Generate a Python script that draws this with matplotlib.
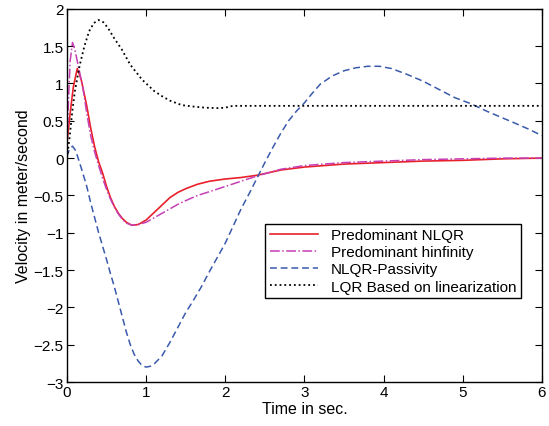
import numpy as np
import matplotlib.pyplot as plt
from matplotlib.ticker import FuncFormatter

plt.rcParams['font.family'] = ['Liberation Sans', 'DejaVu Sans']

# Predominant NLQR
t_nlqr = [0, 0.04, 0.08, 0.13, 0.18, 0.25, 0.3, 0.35, 0.4, 0.45, 0.5, 0.55, 0.6, 0.65, 0.7,
          0.75, 0.82, 0.9, 1.0, 1.1, 1.2, 1.3, 1.4, 1.5, 1.65, 1.8, 2.0, 2.2, 2.4, 2.7, 3.0,
          3.5, 4.0, 4.5, 5.0, 5.5, 6.0]
v_nlqr = [0.2, 0.6, 0.95, 1.2, 1.05, 0.7, 0.4, 0.15, -0.05, -0.2, -0.38, -0.53, -0.65, -0.74,
          -0.81, -0.86, -0.9, -0.89, -0.83, -0.73, -0.63, -0.53, -0.46, -0.41, -0.35, -0.31,
          -0.28, -0.26, -0.23, -0.16, -0.12, -0.08, -0.06, -0.04, -0.03, -0.01, 0.0]

# Predominant hinfinity
t_hinf = [0, 0.02, 0.04, 0.07, 0.1, 0.15, 0.2, 0.25, 0.3, 0.35, 0.4, 0.45, 0.5, 0.55, 0.6,
          0.65, 0.7, 0.75, 0.82, 0.9, 1.0, 1.1, 1.2, 1.3, 1.4, 1.5, 1.65, 1.8, 2.0, 2.2, 2.4,
          2.7, 3.0, 3.5, 4.0, 4.5, 5.0, 5.5, 6.0]
v_hinf = [0.2, 0.8, 1.3, 1.55, 1.45, 1.2, 0.95, 0.6, 0.3, 0.08, -0.1, -0.27, -0.42, -0.55,
          -0.66, -0.75, -0.82, -0.87, -0.9, -0.89, -0.86, -0.8, -0.74, -0.68, -0.62, -0.57,
          -0.5, -0.45, -0.38, -0.31, -0.24, -0.15, -0.1, -0.06, -0.04, -0.02, -0.01, 0.0, 0.0]

# NLQR-Passivity
t_pass = [0, 0.03, 0.07, 0.11, 0.15, 0.2, 0.25, 0.3, 0.35, 0.4, 0.45, 0.5, 0.55, 0.6, 0.65,
          0.7, 0.75, 0.8, 0.85, 0.9, 0.95, 1.0, 1.05, 1.1, 1.2, 1.3, 1.4, 1.5, 1.6, 1.7, 1.8,
          1.9, 2.0, 2.1, 2.2, 2.3, 2.4, 2.5, 2.6, 2.7, 2.8, 2.9, 3.0, 3.1, 3.2, 3.35, 3.5,
          3.65, 3.8, 3.95, 4.1, 4.3, 4.5, 4.7, 4.9, 5.1, 5.3, 5.5, 5.7, 5.85, 6.0]
v_pass = [0.02, 0.12, 0.16, 0.1, -0.03, -0.2, -0.38, -0.6, -0.8, -1.0, -1.18, -1.36, -1.55,
          -1.73, -1.93, -2.13, -2.33, -2.5, -2.63, -2.72, -2.78, -2.8, -2.79, -2.76, -2.65,
          -2.47, -2.27, -2.07, -1.9, -1.72, -1.52, -1.33, -1.14, -0.91, -0.68, -0.48, -0.27,
          -0.06, 0.14, 0.33, 0.5, 0.63, 0.74, 0.87, 0.99, 1.1, 1.17, 1.21, 1.23, 1.23, 1.2,
          1.12, 1.03, 0.92, 0.81, 0.73, 0.63, 0.54, 0.45, 0.38, 0.3]

# LQR Based on linearization
t_lqr = [0, 0.03, 0.07, 0.1, 0.16, 0.22, 0.28, 0.34, 0.4, 0.46, 0.52, 0.6, 0.69, 0.8, 0.95,
         1.1, 1.2, 1.3, 1.45, 1.6, 1.75, 1.9, 2.0, 2.05, 2.1, 6.0]
v_lqr = [0.0, 0.25, 0.65, 0.9, 1.24, 1.5, 1.7, 1.81, 1.85, 1.82, 1.74, 1.6, 1.46, 1.25, 1.05,
         0.9, 0.83, 0.77, 0.71, 0.69, 0.675, 0.67, 0.675, 0.69, 0.7, 0.7]

fig = plt.figure(figsize=(5.49, 4.27), dpi=100)
ax = fig.add_axes([0.122, 0.103, 0.865, 0.874])

ax.plot(t_nlqr, v_nlqr, '-', color='#e8202a', lw=1.2, label='Predominant NLQR')
ax.plot(t_hinf, v_hinf, '-.', color='#c63fb5', lw=1.1, label='Predominant hinfinity')
ax.plot(t_pass, v_pass, '--', color='#3a5aab', lw=1.1, dashes=(4.5, 2.5),
        label='NLQR-Passivity')
ax.plot(t_lqr, v_lqr, ':', color='black', lw=1.3, label='LQR Based on linearization')

ax.set_xlim(0, 6)
ax.set_ylim(-3, 2)
ax.set_xticks(np.arange(0, 7, 1))
ax.set_yticks(np.arange(-3, 2.01, 0.5))
fmt = FuncFormatter(lambda v, p: ('%g' % v).replace('-', '\u2212'))
ax.xaxis.set_major_formatter(fmt)
ax.yaxis.set_major_formatter(fmt)
ax.tick_params(direction='in', top=True, right=True, labelsize=11, length=5, width=0.8,
               pad=2.5)
for s in ax.spines.values():
    s.set_linewidth(1.0)

ax.set_xlabel('Time in sec.', fontsize=11.5, labelpad=1)
ax.set_ylabel('Velocity in meter/second', fontsize=11.5, labelpad=2)

leg = ax.legend(loc='upper left', bbox_to_anchor=(0.417, 0.424), fontsize=11,
                fancybox=False, framealpha=1, edgecolor='black', borderpad=0.3,
                handlelength=3.2, labelspacing=0.2, handletextpad=0.8, borderaxespad=0)
leg.get_frame().set_linewidth(1.0)

fig.savefig('out.png', dpi=100)
